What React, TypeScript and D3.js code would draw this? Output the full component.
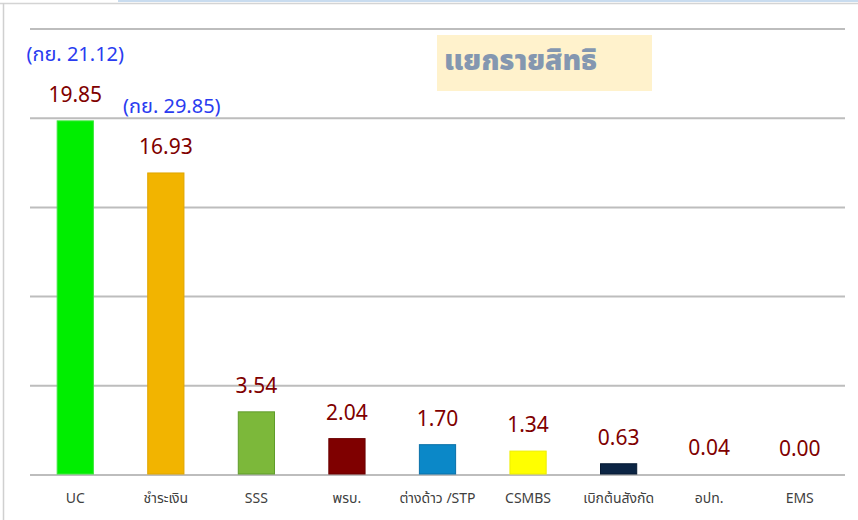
import React from "react";
import * as d3 from "d3";

const categories = ["UC", "ชำระเงิน", "SSS", "พรบ.", "ต่างด้าว /STP", "CSMBS", "เบิกต้นสังกัด", "อปท.", "EMS"];
const values = [19.85, 16.93, 3.54, 2.04, 1.7, 1.34, 0.63, 0.04, 0.0];
const valueLabels = ["19.85", "16.93", "3.54", "2.04", "1.70", "1.34", "0.63", "0.04", "0.00"];
const barColors = ["#00ee00", "#f2b400", "#7cb83a", "#7f0000", "#0b88c8", "#ffff00", "#0c2544", "#888888", "#888888"];
const barStrokes = ["#3ce63c", "#e0a600", "#5f9c2a", "#6a0000", "#0a70a8", "#eeee00", "#061a33", "#888888", "#888888"];
const notes = [
  { index: 0, text: "(กย. 21.12)" },
  { index: 1, text: "(กย. 29.85)" },
];
const yTicks = [0, 5, 10, 15, 20, 25];
const title = "แยกรายสิทธิ";

const W = 858;
const H = 520;
const left = 30;
const right = 845;
const top = 29;
const bottom = 475;

export default function App() {
  const x = d3.scaleBand<string>().domain(categories).range([left, right]).paddingInner(0.6).paddingOuter(0.3);
  const y = d3.scaleLinear().domain([0, 25]).range([bottom, top]);
  const font = "'Noto Sans', 'Noto Sans Thai', 'DejaVu Sans', sans-serif";
  return (
    <svg width={W} height={H} style={{ position: "absolute", left: 0, top: 0, background: "#fff" }} fontFamily={font}>
      <rect x={0} y={0} width={W} height={H} fill="#fff" />
      <rect x={118} y={0} width={W - 118} height={2} fill="#c9dcef" />
      <line x1={0} x2={W} y1={3.5} y2={3.5} stroke="#d4d4d4" strokeWidth={1.5} />
      <line x1={3.5} x2={3.5} y1={3} y2={H} stroke="#d0d0d0" strokeWidth={1.5} />
      {yTicks.map((t) => (
        <line key={t} x1={left} x2={right} y1={y(t)} y2={y(t)} stroke="#bdbdbd" strokeWidth={2} />
      ))}
      <rect x={437} y={35} width={215} height={56} fill="#fff2cc" />
      <text x={444} y={70} fontSize={28} fontWeight={900} fill="#8497b0">{title}</text>
      {categories.map((c, i) => {
        const bx = x(c)!;
        const bw = x.bandwidth();
        const by = y(values[i]);
        const h = bottom - by;
        return (
          <g key={c}>
            {h > 0.5 && (
              <rect x={bx} y={by} width={bw} height={h - 1} fill={barColors[i]} stroke={barStrokes[i]} strokeWidth={1} />
            )}
            <text x={bx + bw / 2} y={by - 19} textAnchor="middle" fontSize={21} fill="#7f0000">{valueLabels[i]}</text>
            <text x={bx + bw / 2} y={503} textAnchor="middle" fontSize={14} fill="#404040">{c}</text>
          </g>
        );
      })}
      {notes.map((n) => {
        const c = categories[n.index];
        const cx = x(c)! + x.bandwidth() / 2 + (n.index === 1 ? 6 : 0);
        const by = y(values[n.index]);
        return (
          <text key={n.text} x={cx} y={by - 60} textAnchor="middle" fontSize={20} fill="#2a3cf0">{n.text}</text>
        );
      })}
    </svg>
  );
}
